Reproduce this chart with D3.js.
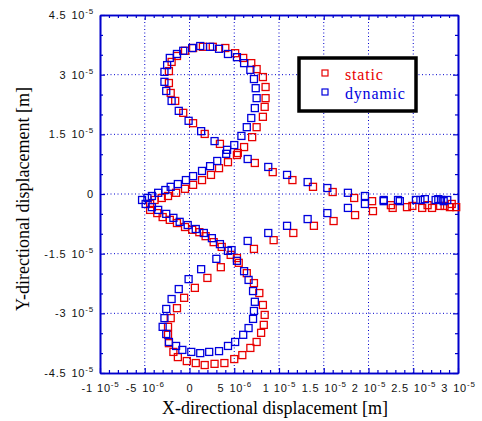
<!DOCTYPE html>
<html>
<head>
<meta charset="utf-8">
<title>displacement orbit</title>
<script src="https://cdn.jsdelivr.net/npm/d3@7"></script>
<style>
body { margin: 0; background: #fff; }
.tick text { font-family: "Liberation Sans", Arial, sans-serif; font-size: 11px; letter-spacing: 0.8px; fill: #111; }
.title { font-family: "Liberation Serif", "Times New Roman", serif; font-size: 18px; fill: #000; }
.leg { font-family: "Liberation Serif", "Times New Roman", serif; font-size: 16px; letter-spacing: 0.8px; }
</style>
</head>
<body>
<script>
// displacements in micrometres (1e-6 m), [x, y]
var staticPts = [
	[29.8,-3.3],[29.1,-3.3],[28.5,-3.0],[27.1,-3.5],[26.0,-3.5],[24.3,-3.3],[22.5,-2.8],[20.4,-1.8],[18.4,-1.0],[16.0,0.5],
	[13.8,1.8],[11.5,3.5],[9.3,5.5],[7.3,7.8],[5.4,10.3],[3.4,12.6],[1.7,15.1],[0.4,17.8],[-0.7,20.4],[-1.6,23.4],
	[-2.1,25.4],[-2.3,27.9],[-2.3,30.9],[-2.0,33.2],[-1.4,34.7],[-0.5,36.0],[0.4,36.7],[1.5,37.0],[2.6,37.0],[4.0,36.7],
	[5.1,35.4],[6.0,34.2],[6.9,32.9],[7.5,31.4],[8.2,29.4],[8.5,26.9],[8.5,24.1],[8.4,21.9],[8.2,19.4],[7.5,16.8],
	[7.0,14.3],[6.1,11.8],[5.3,9.8],[4.3,8.0],[3.3,6.5],[2.4,4.8],[1.4,3.5],[0.4,2.3],[-0.5,1.3],[-1.5,0.3],
	[-2.4,-0.5],[-3.1,-1.0],[-3.9,-1.5],[-4.4,-2.5],[-4.4,-4.0],[-3.6,-4.8],[-3.0,-5.8],[-2.2,-6.5],[-1.4,-7.3],[-0.5,-8.3],
	[0.3,-9.0],[1.1,-9.6],[1.8,-10.6],[2.7,-12.1],[3.6,-13.3],[4.6,-15.3],[5.5,-17.3],[6.4,-19.9],[7.2,-22.4],[7.8,-24.9],
	[8.2,-27.9],[8.4,-30.4],[8.3,-32.9],[8.0,-34.9],[7.5,-37.2],[6.8,-38.7],[5.9,-40.5],[5.0,-41.5],[3.9,-42.5],[2.8,-42.7],
	[1.7,-43.0],[0.7,-42.5],[-0.3,-42.0],[-1.3,-41.0],[-1.8,-39.7],[-2.3,-37.5],[-2.4,-35.4],[-2.4,-33.4],[-2.1,-31.2],[-1.4,-28.7],
	[-0.6,-26.1],[0.6,-23.6],[2.0,-21.1],[3.5,-18.4],[5.3,-16.1],[7.2,-13.8],[9.4,-11.6],[11.6,-9.8],[13.9,-8.0],[16.1,-6.8],
	[18.5,-5.3],[20.5,-4.3],[22.7,-3.5],[24.9,-3.0],[26.6,-2.8],[28.0,-3.0],[29.3,-2.5]
];
var dynamicPts = [
	[28.8,-1.5],[28.1,-1.5],[27.8,-1.3],[26.3,-1.3],[25.3,-1.5],[23.3,-1.5],[21.7,-1.5],[19.6,-0.5],[17.7,0.3],[15.4,1.5],
	[13.2,3.0],[10.9,4.8],[8.8,6.8],[6.5,8.8],[4.2,11.1],[2.8,13.3],[1.3,15.8],[-0.1,18.4],[-1.2,20.9],[-2.0,23.4],
	[-2.6,25.9],[-2.8,28.2],[-2.8,30.7],[-2.5,32.4],[-2.2,34.2],[-1.4,35.2],[-0.7,36.0],[0.3,36.7],[1.2,37.2],[2.3,37.0],
	[3.3,36.5],[4.3,35.2],[5.3,34.4],[6.1,32.9],[6.8,31.2],[7.2,28.9],[7.4,26.6],[7.5,24.1],[7.3,21.6],[6.9,19.1],
	[6.4,16.8],[5.8,14.6],[5.0,12.3],[4.1,10.1],[3.1,8.3],[2.3,7.0],[1.4,5.8],[0.4,4.5],[-0.4,3.5],[-1.3,2.5],
	[-2.1,1.8],[-2.7,1.0],[-3.5,0.3],[-4.2,-0.5],[-4.7,-1.0],[-5.3,-1.5],[-4.9,-2.5],[-4.2,-3.3],[-3.5,-4.0],[-2.6,-5.0],
	[-1.8,-6.0],[-1.1,-7.0],[-0.2,-7.8],[0.7,-8.8],[1.6,-9.8],[2.5,-11.1],[3.4,-12.6],[4.3,-14.3],[5.3,-16.8],[6.1,-19.4],
	[6.6,-21.6],[7.1,-24.4],[7.3,-27.1],[7.2,-29.4],[7.1,-31.4],[6.6,-33.7],[6.0,-35.4],[5.1,-37.2],[4.3,-38.2],[3.3,-39.5],
	[2.2,-39.7],[1.2,-40.0],[0.2,-39.7],[-0.8,-39.2],[-1.5,-38.2],[-2.3,-37.2],[-2.6,-35.2],[-3.0,-33.4],[-2.8,-31.2],[-2.6,-28.9],
	[-2.0,-26.4],[-1.2,-23.9],[-0.1,-21.4],[1.3,-18.9],[3.0,-16.3],[4.7,-14.1],[6.5,-11.8],[8.8,-9.8],[10.9,-8.0],[13.2,-6.3],
	[15.4,-4.8],[17.7,-3.5],[19.6,-2.5],[21.7,-1.8],[23.5,-1.8],[25.8,-1.5],[27.5,-1.5],[28.4,-1.8]
];
var xTicks = [-10, -5, 0, 5, 10, 15, 20, 25, 30];
var xTickLabels = [["-1","-5"],["-5","-6"],["0",""],["5","-6"],["1","-5"],["1.5","-5"],["2","-5"],["2.5","-5"],["3","-5"]];
var yTicks = [-45, -30, -15, 0, 15, 30, 45];
var yTickLabels = [["-4.5","-5"],["-3","-5"],["-1.5","-5"],["0",""],["1.5","-5"],["3","-5"],["4.5","-5"]];
var seriesNames = ["static", "dynamic"];
var seriesColors = ["#e80000", "#0000dd"];
var axisColor = "#0000cc";

var w = 482, h = 421;
var pLeft = 100, pRight = 458, pTop = 15, pBottom = 373;

var svg = d3.select("body").append("svg").attr("width", w).attr("height", h);

var x = d3.scaleLinear().domain([-10, 30]).range([pLeft, pRight]);
var y = d3.scaleLinear().domain([-45, 45]).range([pBottom, pTop]);

var xMinor = d3.range(-10, 30.5, 1).filter(function(d){ return d % 5 != 0; });
var yMinor = d3.range(-45, 45.5, 5).filter(function(d){ return d % 15 != 0; });

// grid
var grid = svg.append("g").attr("stroke", axisColor).attr("stroke-width", 1).attr("stroke-dasharray", "1,2.5");
grid.selectAll(".gx").data(xTicks.slice(1, -1)).enter().append("line")
	.attr("x1", x).attr("x2", x).attr("y1", pTop).attr("y2", pBottom);
grid.selectAll(".gy").data(yTicks.slice(1, -1)).enter().append("line")
	.attr("y1", y).attr("y2", y).attr("x1", pLeft).attr("x2", pRight);

function labelTicks(g, labels) {
	g.selectAll(".tick text").each(function(d, i) {
		var t = d3.select(this).text(null);
		var l = labels[i];
		t.append("tspan").text(l[0]);
		if (l[1]) {
			t.append("tspan").attr("dx", 5).text("10");
			t.append("tspan").attr("dy", -5).attr("font-size", 8).text(l[1]);
		}
	});
}

function styleAxis(g) {
	g.selectAll("path, line").attr("stroke", axisColor);
	g.select(".domain").attr("stroke-width", 1.6);
	g.selectAll(".tick line").attr("stroke-width", 1.2);
}

// bottom
var gb = svg.append("g").attr("transform", "translate(0," + pBottom + ")")
	.call(d3.axisBottom(x).tickValues(xTicks).tickSize(-5).tickSizeOuter(0).tickPadding(11).tickFormat(""));
labelTicks(gb, xTickLabels);
styleAxis(gb);
svg.append("g").attr("transform", "translate(0," + pBottom + ")")
	.call(d3.axisBottom(x).tickValues(xMinor).tickSize(-3).tickSizeOuter(0).tickFormat(""))
	.call(styleAxis);
// top
svg.append("g").attr("transform", "translate(0," + pTop + ")")
	.call(d3.axisTop(x).tickValues(xTicks).tickSize(-5).tickSizeOuter(0).tickFormat(""))
	.call(styleAxis);
svg.append("g").attr("transform", "translate(0," + pTop + ")")
	.call(d3.axisTop(x).tickValues(xMinor).tickSize(-3).tickSizeOuter(0).tickFormat(""))
	.call(styleAxis);
// left
var gl = svg.append("g").attr("transform", "translate(" + pLeft + ",0)")
	.call(d3.axisLeft(y).tickValues(yTicks).tickSize(-5).tickSizeOuter(0).tickPadding(6).tickFormat(""));
labelTicks(gl, yTickLabels);
styleAxis(gl);
svg.append("g").attr("transform", "translate(" + pLeft + ",0)")
	.call(d3.axisLeft(y).tickValues(yMinor).tickSize(-3).tickSizeOuter(0).tickFormat(""))
	.call(styleAxis);
// right
svg.append("g").attr("transform", "translate(" + pRight + ",0)")
	.call(d3.axisRight(y).tickValues(yTicks).tickSize(-5).tickSizeOuter(0).tickFormat(""))
	.call(styleAxis);
svg.append("g").attr("transform", "translate(" + pRight + ",0)")
	.call(d3.axisRight(y).tickValues(yMinor).tickSize(-3).tickSizeOuter(0).tickFormat(""))
	.call(styleAxis);

// data
var series = [staticPts, dynamicPts];
var ms = 7;
series.forEach(function(pts, k) {
	svg.append("g").selectAll("rect").data(pts).enter().append("rect")
		.attr("x", function(d){ return x(d[0]) - ms/2; })
		.attr("y", function(d){ return y(d[1]) - ms/2; })
		.attr("width", ms).attr("height", ms)
		.attr("fill", "none")
		.attr("stroke", seriesColors[k])
		.attr("stroke-width", 1.3);
});

// legend
var lg = svg.append("g");
lg.append("rect").attr("x", 299).attr("y", 58).attr("width", 117).attr("height", 53)
	.attr("fill", "#fff").attr("stroke", "#000").attr("stroke-width", 3.5);
seriesNames.forEach(function(n, k) {
	var ly = 73 + k * 19;
	lg.append("rect").attr("x", 322).attr("y", ly - 3).attr("width", 6).attr("height", 6)
		.attr("fill", "none").attr("stroke", seriesColors[k]).attr("stroke-width", 1.2);
	lg.append("text").attr("class", "leg").attr("x", 345).attr("y", ly + 7)
		.attr("fill", seriesColors[k]).text(n);
});

// titles
svg.append("text").attr("class", "title").attr("x", 275).attr("y", 414)
	.attr("text-anchor", "middle").text("X-directional displacement [m]");
svg.append("text").attr("class", "title").attr("text-anchor", "middle")
	.attr("transform", "translate(29,199) rotate(-90)").text("Y-directional displacement [m]");
</script>
</body>
</html>
